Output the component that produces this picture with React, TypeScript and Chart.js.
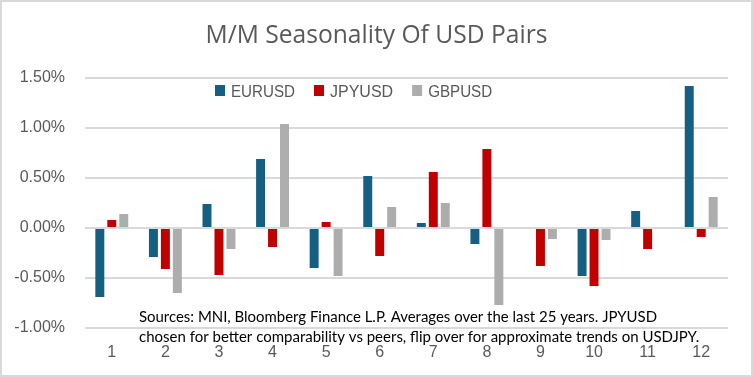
import React, { useEffect, useRef } from "react";
import { Chart, registerables } from "chart.js";

Chart.register(...registerables);

const months = ["1", "2", "3", "4", "5", "6", "7", "8", "9", "10", "11", "12"];
const eurusd = [-0.69, -0.29, 0.24, 0.69, -0.4, 0.52, 0.05, -0.16, 0, -0.48, 0.17, 1.42];
const jpyusd = [0.08, -0.41, -0.47, -0.19, 0.06, -0.28, 0.56, 0.79, -0.38, -0.58, -0.21, -0.09];
const gbpusd = [0.14, -0.65, -0.21, 1.04, -0.48, 0.21, 0.25, -0.77, -0.11, -0.12, 0, 0.31];
const seriesNames = ["EURUSD", "JPYUSD", "GBPUSD"];
const seriesColors = ["#156082", "#C00000", "#ADADAD"];
const titleText = "M/M Seasonality Of USD Pairs";
const noteLines = [
  "Sources: MNI, Bloomberg Finance L.P. Averages over the last 25 years. JPYUSD",
  "chosen for better comparability vs peers, flip over for approximate trends on USDJPY.",
];
const yMin = -1;
const yMax = 1.5;
const yStep = 0.5;

const TEXT_GRAY = "#595959";
const SANS = '"Liberation Sans", Arial, sans-serif';

const decorPlugin = {
  id: "decor",
  beforeDraw(chart: any) {
    const ctx = chart.ctx;
    ctx.save();
    ctx.fillStyle = "#ffffff";
    ctx.fillRect(0, 0, chart.width, chart.height);
    ctx.restore();
  },
  afterDraw(chart: any) {
    const ctx = chart.ctx;
    const area = chart.chartArea;
    ctx.save();
    // title
    ctx.font = '26px "Open Sans", sans-serif';
    ctx.fillStyle = TEXT_GRAY;
    ctx.textAlign = "center";
    ctx.textBaseline = "alphabetic";
    ctx.fillText(titleText, chart.width / 2, 43, 342);

    // legend
    ctx.font = "16px " + SANS;
    ctx.textAlign = "left";
    let x = area.left + 130;
    const baseY = 97;
    chart.data.datasets.forEach((ds: any) => {
      ctx.fillStyle = ds.backgroundColor;
      ctx.fillRect(x, 85, 10, 11);
      x += 16;
      ctx.fillStyle = TEXT_GRAY;
      const w = Math.min(ctx.measureText(ds.label).width, 64);
      ctx.fillText(ds.label, x, baseY, 64);
      x += w + 19;
    });

    // note
    ctx.font = '15px Lato, "Open Sans", sans-serif';
    ctx.fillStyle = "#000000";
    ctx.fillText(noteLines[0], 139, 322, 518);
    ctx.fillText(noteLines[1], 139, 342, 564);

    // frame
    ctx.strokeStyle = "#d9d9d9";
    ctx.lineWidth = 2;
    ctx.strokeRect(1, 1, chart.width - 2, chart.height - 2);
    ctx.restore();
  },
};

export default function App() {
  const canvasRef = useRef<HTMLCanvasElement | null>(null);

  useEffect(() => {
    document.body.style.margin = "0";
    const canvas = canvasRef.current;
    if (!canvas) return;
    const data = [eurusd, jpyusd, gbpusd];
    const chart = new Chart(canvas, {
      type: "bar",
      data: {
        labels: months,
        datasets: seriesNames.map((name, i) => ({
          label: name,
          data: data[i],
          backgroundColor: seriesColors[i],
          borderWidth: 0,
          barPercentage: 0.75,
          categoryPercentage: 0.67,
        })),
      },
      options: {
        animation: false,
        responsive: true,
        maintainAspectRatio: false,
        layout: { padding: { left: 0, right: 25, top: 78, bottom: 0 } },
        plugins: {
          legend: { display: false },
          title: { display: false },
          tooltip: { enabled: false },
        },
        scales: {
          x: {
            grid: { display: false, drawTicks: false },
            border: { display: false },
            ticks: {
              color: TEXT_GRAY,
              font: { family: SANS, size: 16 },
              padding: 15,
              maxRotation: 0,
            },
            afterFit: (scale: any) => {
              scale.height = 49;
            },
          },
          y: {
            min: yMin,
            max: yMax,
            grid: { color: "#d9d9d9", lineWidth: 2, drawTicks: false },
            border: { display: false },
            ticks: {
              stepSize: yStep,
              color: TEXT_GRAY,
              font: { family: SANS, size: 16 },
              padding: 20,
              callback: (v: any) => Number(v).toFixed(2) + "%",
            },
            afterFit: (scale: any) => {
              scale.width = 85;
            },
          },
        },
      },
      plugins: [decorPlugin],
    });
    return () => chart.destroy();
  }, []);

  return (
    <div style={{ position: "absolute", left: 0, top: 0, width: 753, height: 377 }}>
      <canvas ref={canvasRef} />
    </div>
  );
}
